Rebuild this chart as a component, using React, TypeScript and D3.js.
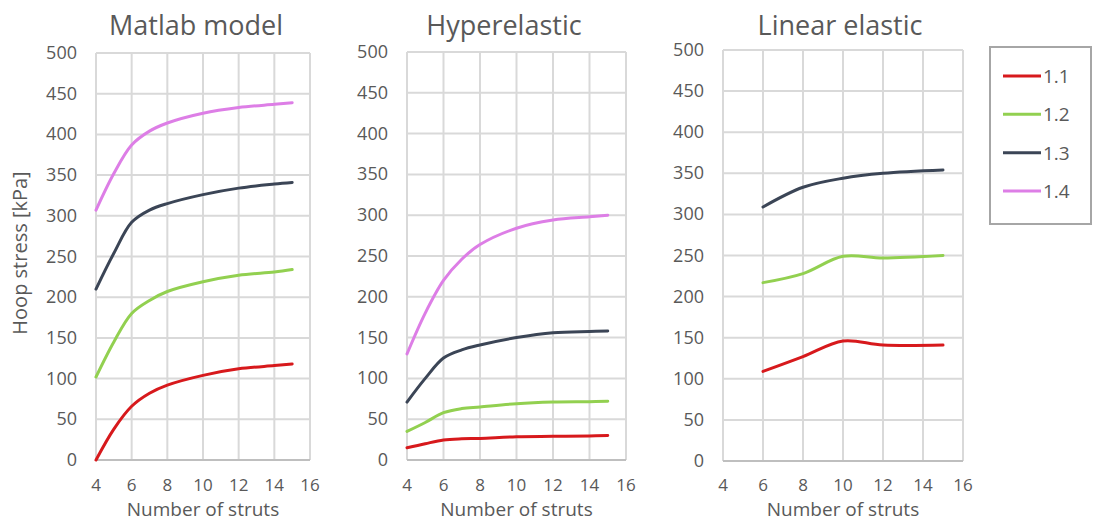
import React from "react";
import * as d3 from "d3";

// Series labels and colours
const seriesNames = ["1.1", "1.2", "1.3", "1.4"];
const seriesColors = ["#D7191C", "#92D050", "#3B4556", "#DD7EE6"];

// Number of struts sampled in each model
const matlabStruts = [4, 5, 6, 7, 8, 10, 12, 14, 15];
const hyperStruts = [4, 5, 6, 7, 8, 10, 12, 14, 15];
const linearStruts = [6, 8, 10, 12, 15];

// Hoop stress [kPa] per series (1.1, 1.2, 1.3, 1.4)
const matlabStress = [
  [0, 38, 66, 82, 92, 104, 112, 116, 118],
  [102, 145, 180, 196, 207, 219, 227, 231, 234],
  [210, 254, 292, 307, 315, 326, 334, 339, 341],
  [307, 352, 387, 404, 414, 426, 433, 437, 439],
];
const hyperStress = [
  [15, 20, 24.5, 26, 26.5, 28.5, 29, 29.5, 30],
  [35, 46, 58, 63, 65, 69, 71, 71.5, 72],
  [71, 100, 125, 135, 141, 150, 156, 157.5, 158],
  [130, 180, 220, 246, 264, 284, 294, 298, 300],
];
const linearStress = [
  [109, 127, 146, 141, 141],
  [217, 228, 249, 247, 250],
  [309, 333, 344, 350, 354],
];

const yTicks = [0, 50, 100, 150, 200, 250, 300, 350, 400, 450, 500];
const xTicks = [4, 6, 8, 10, 12, 14, 16];

const FONT = "'Open Sans', 'Noto Sans', sans-serif";
const TEXT = "#595959";

type PanelProps = {
  title: string;
  struts: number[];
  stress: number[][];
  left: number;
  right: number;
  top: number;
  bottom: number;
  titleX: number;
};

function Panel({ title, struts, stress, left, right, top, bottom, titleX }: PanelProps) {
  const x = d3.scaleLinear().domain([4, 16]).range([left, right]);
  const y = d3.scaleLinear().domain([0, 500]).range([bottom, top]);
  const line = d3
    .line<number>()
    .x((_, i) => x(struts[i]))
    .y((d) => y(d))
    .curve(d3.curveCatmullRom.alpha(0.5));

  return (
    <g>
      <text x={titleX} y={35} textAnchor="middle" fontSize={27} fill={TEXT} fontFamily={FONT}>
        {title}
      </text>
      {yTicks.map((t) => (
        <line key={"h" + t} x1={left} x2={right} y1={y(t)} y2={y(t)} stroke="#D9D9D9" strokeWidth={2} />
      ))}
      {xTicks.map((t) => (
        <line key={"v" + t} x1={x(t)} x2={x(t)} y1={top} y2={bottom} stroke="#D9D9D9" strokeWidth={2} />
      ))}
      <line x1={left} x2={right} y1={bottom} y2={bottom} stroke="#BFBFBF" strokeWidth={2} />
      {yTicks.map((t) => (
        <text key={"yl" + t} x={left - 19} y={y(t) + 6} textAnchor="end" fontSize={18} fill={TEXT} fontFamily={FONT}>
          {t}
        </text>
      ))}
      {xTicks.map((t) => (
        <text key={"xl" + t} x={x(t)} y={491} textAnchor="middle" fontSize={17} fill={TEXT} fontFamily={FONT}>
          {t}
        </text>
      ))}
      <text x={(left + right) / 2} y={515.5} textAnchor="middle" fontSize={19} fill={TEXT} fontFamily={FONT}>
        Number of struts
      </text>
      {stress.map((vals, i) => (
        <path
          key={i}
          d={line(vals) || ""}
          fill="none"
          stroke={seriesColors[i]}
          strokeWidth={3}
          strokeLinecap="round"
          strokeLinejoin="round"
        />
      ))}
    </g>
  );
}

export default function App() {
  const legendY = d3.scaleLinear().domain([0, 3]).range([76, 191]);
  return (
    <div style={{ position: "absolute", left: 0, top: 0 }}>
      <svg width={1096} height={522} style={{ display: "block", background: "#fff" }}>
        <Panel title="Matlab model" struts={matlabStruts} stress={matlabStress} left={96} right={310} top={53} bottom={460} titleX={196} />
        <Panel title="Hyperelastic" struts={hyperStruts} stress={hyperStress} left={407} right={626} top={52} bottom={460} titleX={504} />
        <Panel title="Linear elastic" struts={linearStruts} stress={linearStress} left={723} right={963} top={50} bottom={461} titleX={840} />
        <text
          transform="translate(27,253) rotate(-90)"
          textAnchor="middle"
          fontSize={20}
          fill={TEXT}
          fontFamily={FONT}
        >
          Hoop stress [kPa]
        </text>
        <rect x={990} y={47} width={101} height={177} fill="#fff" stroke="#A6A6A6" strokeWidth={2} />
        {seriesNames.map((name, i) => (
          <g key={name}>
            <line x1={1003} x2={1041} y1={legendY(i)} y2={legendY(i)} stroke={seriesColors[i]} strokeWidth={3} />
            <text x={1043} y={legendY(i) + 7} fontSize={19} fill={TEXT} fontFamily={FONT}>
              {name}
            </text>
          </g>
        ))}
      </svg>
    </div>
  );
}
